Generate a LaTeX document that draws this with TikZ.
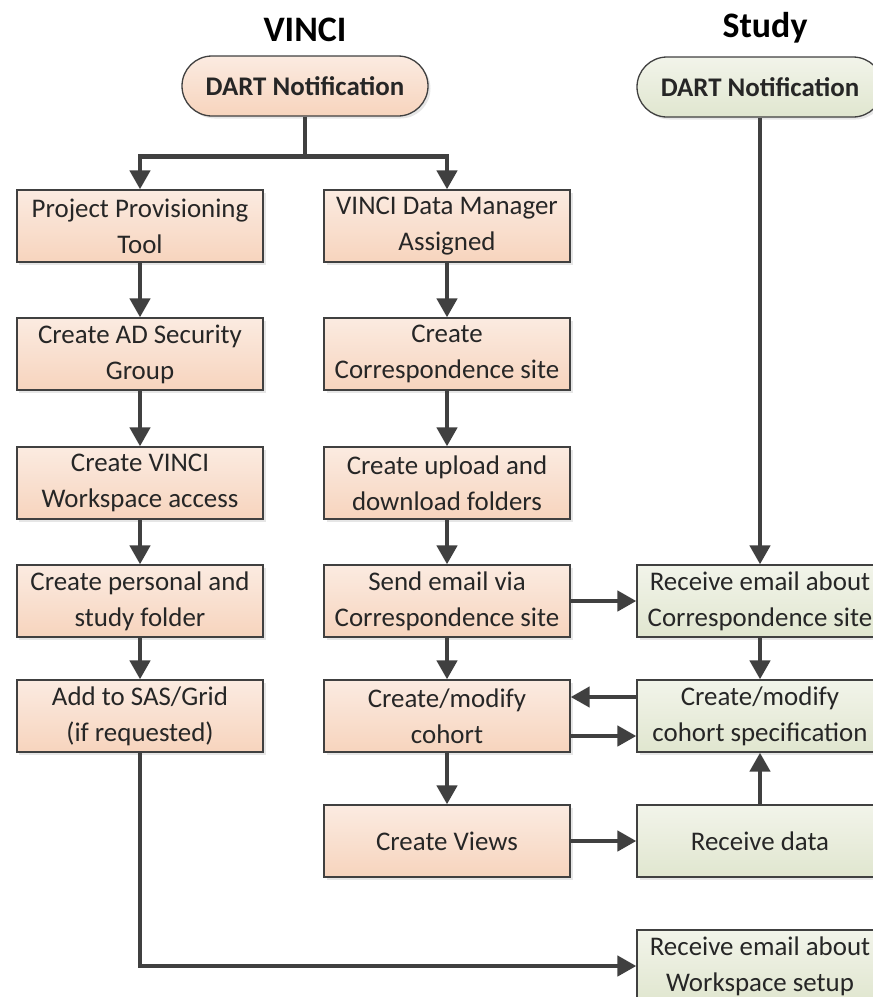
\documentclass[tikz,border=0pt]{standalone}
\usepackage{fontspec}
\setmainfont{Carlito}
\usetikzlibrary{positioning,arrows.meta,shadows,calc}

\definecolor{peachtop}{HTML}{FBEBE1}
\definecolor{peachbot}{HTML}{F7D4BD}
\definecolor{sagetop}{HTML}{F2F4EA}
\definecolor{sagebot}{HTML}{E0E6CF}
\definecolor{linegray}{HTML}{404040}

\tikzset{
  box/.style={rectangle, draw=linegray, line width=1.3bp, minimum width=246bp,
    minimum height=72bp, align=center, text=black!85,
    font=\fontsize{27}{36}\selectfont,
    drop shadow={shadow xshift=2.5bp, shadow yshift=-2.5bp, opacity=0.2}},
  vinci/.style={box, top color=peachtop, bottom color=peachbot},
  study/.style={box, top color=sagetop, bottom color=sagebot},
  start/.style={minimum height=60bp, rounded corners=30bp,
    font=\bfseries\fontsize{27}{30}\selectfont},
  flow/.style={-{Triangle[length=19bp,width=20bp]}, line width=4.5bp, draw=linegray},
  title/.style={font=\bfseries\fontsize{36}{40}\selectfont}
}

\begin{document}
\begin{tikzpicture}[x=1bp,y=-1bp]
\useasboundingbox (0,0) rectangle (873,997);
\clip (0,0) rectangle (873,997);
% headings
\node[title] (vt) at (305,30) {VINCI};
\node[title] (st) at (765,28) {Study};
\node[vinci,start] (vd) at (305,86) {DART Notification};
\node[study,start] (sd) at (760,87) {DART Notification};

% VINCI side
\node[vinci] (pp) at (140,226) {Project Provisioning\\Tool};
\node[vinci] (ad) at (140,354) {Create AD Security\\Group};
\node[vinci] (ws) at (140,483) {Create VINCI\\Workspace access};
\node[vinci] (pf) at (140,601) {Create personal and\\study folder};
\node[vinci] (sas) at (140,716) {Add to SAS/Grid\\(if requested)};

\node[vinci] (dm) at (447,226) {VINCI Data Manager\\Assigned};
\node[vinci] (cs) at (447,354) {Create\\Correspondence site};
\node[vinci] (uf) at (447,483) {Create upload and\\download folders};
\node[vinci] (se) at (447,601) {Send email via\\Correspondence site};
\node[vinci] (co) at (447,716) {Create/modify\\cohort};
\node[vinci] (cv) at (447,841) {Create Views};

% Study side
\node[study] (re) at (760,601) {Receive email about\\Correspondence site};
\node[study] (spec) at (760,716) {Create/modify\\cohort specification};
\node[study] (rd) at (760,841) {Receive data};
\node[study] (rw) at (760,966) {Receive email about\\Workspace setup};

% connectors
\coordinate (split) at ($(vd.south)+(0,40)$);
\draw[line width=4.5bp, linegray] (vd.south) -- (split);
\draw[flow] (split) -| (pp);
\draw[flow] (split) -| (dm);
\foreach \a/\b in {pp/ad, ad/ws, ws/pf, pf/sas, dm/cs, cs/uf, uf/se, se/co, co/cv, re/spec}
  \draw[flow] (\a) -- (\b);
\draw[flow] (sd) -- (re);
\draw[flow] (se) -- (re);
\draw[flow] ($(spec.west)+(0,-19)$) -- ($(co.east)+(0,-19)$);
\draw[flow] ($(co.east)+(0,20)$) -- ($(spec.west)+(0,20)$);
\draw[flow] (cv) -- (rd);
\draw[flow] (rd) -- (spec);
\draw[flow] (sas.south) |- (rw.west);
\end{tikzpicture}
\end{document}
